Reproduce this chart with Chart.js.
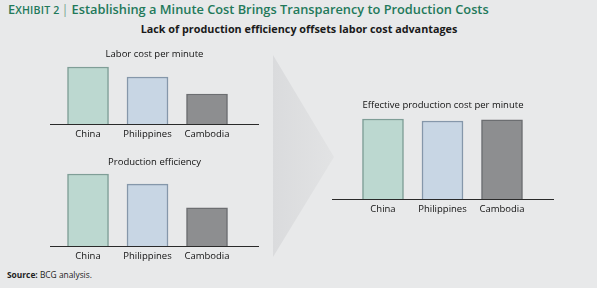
<!DOCTYPE html>
<html>
<head>
<meta charset="utf-8">
<script src="https://cdn.jsdelivr.net/npm/chart.js@4"></script>
<style>
  html, body { margin: 0; padding: 0; }
  body { width: 597px; height: 288px; background: #e8e9ea; position: relative; overflow: hidden; font-family: "Open Sans", sans-serif; }
  .title { position: absolute; left: 8px; top: 0px; font-size: 12.8px; font-weight: 600; color: #23795a; white-space: nowrap; }
  .title .sc { font-size: 10.6px; letter-spacing: 0.2px; }
  .title .bar { color: #7aa592; font-weight: 400; margin: 0 3px 0 2px; }
  .sub { position: absolute; left: 0; width: 598px; text-align: center; top: 21px; font-size: 10.8px; font-weight: 700; color: #1a1a1a; white-space: nowrap; }
  .arrow { position: absolute; left: 273px; top: 55px; width: 61px; height: 202px;
           background: linear-gradient(to right, #dadbdd, #e2e3e4);
           clip-path: polygon(0 0, 100% 50.5%, 0 100%); }
  .source { position: absolute; left: 7px; top: 269px; font-size: 8.4px; color: #222; }
  canvas { position: absolute; }
</style>
</head>
<body>
<div class="title">E<span class="sc">XHIBIT 2</span><span class="bar">|</span>Establishing a Minute Cost Brings Transparency to Production Costs</div>
<div class="sub">Lack of production efficiency offsets labor cost advantages</div>
<div class="arrow"></div>
<div class="source"><b>Source:</b> BCG analysis.</div>

<canvas id="labor" style="left:50px; top:49px;" width="209" height="97"></canvas>
<canvas id="efficiency" style="left:50px; top:157px;" width="209" height="111"></canvas>
<canvas id="effective" style="left:332px; top:100px;" width="222" height="121"></canvas>

<script>
// countries, indexed to China = 100 (no value axis in the original)
var countries = ['China', 'Philippines', 'Cambodia'];
var laborCost = [100, 82.5, 52.6];
var efficiency = [100, 86, 53];
var effectiveCost = [100, 97.5, 99];

var fills = ['#bcd8d0', '#c8d6e4', '#8d8e90'];
var borders = ['#7f9e97', '#8597aa', '#6c6e71'];

function makeChart(canvasId, title, values, xMin, xMax, yMax) {
    var points = values.map(function (v, i) { return { x: i, y: v }; });
    return new Chart(document.getElementById(canvasId), {
        type: 'bar',
        data: {
            datasets: [{
                data: points,
                backgroundColor: fills,
                borderColor: borders,
                borderWidth: 1.5,
                borderSkipped: 'bottom',
                barThickness: 41
            }]
        },
        options: {
            responsive: false,
            animation: false,
            layout: { padding: 0 },
            plugins: {
                legend: { display: false },
                tooltip: { enabled: false },
                title: {
                    display: true,
                    text: title,
                    color: '#111',
                    font: { family: 'Open Sans', size: 9.5, weight: 'normal', lineHeight: 1.2 },
                    padding: { top: 0, bottom: 2 }
                }
            },
            scales: {
                x: {
                    type: 'linear',
                    offset: false,
                    min: xMin,
                    max: xMax,
                    grid: { display: false, drawTicks: false, offset: false },
                    border: { display: true, color: '#2a2a2a', width: 1 },
                    afterBuildTicks: function (scale) {
                        scale.ticks = countries.map(function (c, i) { return { value: i }; });
                    },
                    afterFit: function (scale) { scale.height = 22; },
                    ticks: {
                        padding: 5,
                        color: '#111',
                        font: { family: 'Open Sans', size: 9.5 },
                        callback: function (value) { return countries[value]; }
                    }
                },
                y: { display: false, min: 0, max: yMax }
            }
        }
    });
}

makeChart('labor', 'Labor cost per minute', laborCost, -0.639, 2.874, 108.1);
makeChart('efficiency', 'Production efficiency', efficiency, -0.639, 2.874, 105);
makeChart('effective', 'Effective production cost per minute', effectiveCost, -0.857, 2.874, 107);
</script>
</body>
</html>
